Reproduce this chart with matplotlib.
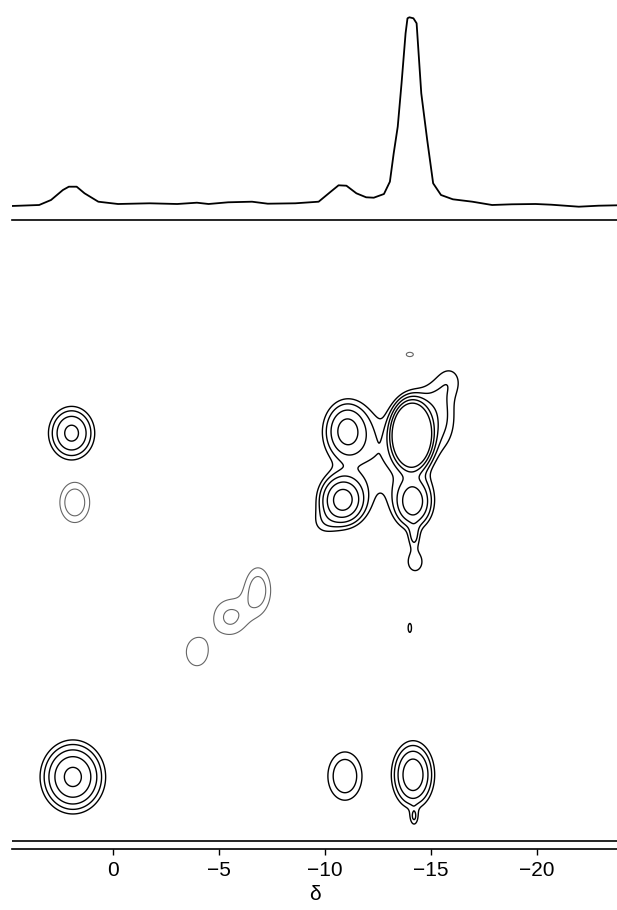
import matplotlib
matplotlib.use('Agg')
import matplotlib.pyplot as plt
import numpy as np

plt.rcParams['font.family'] = ['Liberation Sans', 'DejaVu Sans']

# 1D projection trace (delta, intensity)
trace_delta = [4.78, 3.48, 2.92, 2.36, 2.08, 1.71, 1.34, 0.69, -0.24, -1.73, -3.03,
               -3.96, -4.51, -5.43, -6.56, -7.3, -8.6, -9.7, -10.27, -10.64, -11.01,
               -11.48, -11.94, -12.3, -12.78, -13.06, -13.24, -13.43, -13.61, -13.8,
               -13.89, -13.98, -14.17, -14.32, -14.54, -14.82, -15.1, -15.47, -16.03,
               -16.95, -17.88, -18.81, -19.93, -20.67, -21.97, -22.9, -23.79]
trace_int = [0, 1, 6, 16, 19.3, 19.3, 12.7, 4.3, 2, 2.7, 2,
             3.3, 2, 3.7, 4.3, 2.3, 2.7, 4.3, 14.3, 20.7, 20.3,
             12.7, 8.7, 8.3, 12, 24.3, 52.7, 79.3, 122.7, 172.7,
             187.7, 188.7, 187.7, 182.7, 112.7, 66, 22.7, 11, 6.7,
             4.3, 1, 1.7, 2, 1.3, -0.7, 0.3, 0.7]

# 2D exchange spectrum peaks: F2 shift, F1 shift, height, F2 width, F1 width
main_d2 = [1.89, -10.94, -14.15, -14.2, 1.95, -11.03, -14.09, -10.83, -14.15,
           -14.2, -14.25, -14.0,
           -12.8, -15.4, -15.0, -15.9, -9.9]
main_d1 = [1.90, 1.86, 1.80, 3.8, -14.13, -14.24, -14.05, -11.01, -10.92,
           -9.3, -8.13, -5.05,
           -13.0, -14.6, -15.6, -16.6, -9.9]
main_amp = [7.5, 2.45, 6.0, 1.4, 4.7, 4.7, 61, 8.2, 5.5,
            1.5, 1.5, 1.15,
            1.5, 1.4, 1.0, 1.1, 0.9]
main_w2 = [0.77, 0.6, 0.54, 0.15, 0.62, 0.62, 0.42, 0.59, 0.52,
           0.2, 0.35, 0.15,
           1.5, 0.6, 0.7, 0.5, 0.5]
main_w1 = [0.86, 0.84, 0.84, 0.3, 0.71, 0.8, 0.68, 0.65, 0.7,
           0.4, 0.45, 0.4,
           1.6, 1.0, 0.8, 0.6, 0.5]

# weak (artefact) peaks drawn fainter
weak_d2 = [1.8, -6.84, -5.52, -3.96, -14.0]
weak_d1 = [-10.9, -6.82, -5.55, -3.92, -17.8]
weak_amp = [2.33, 2.08, 1.75, 1.5, 1.25]
weak_w2 = [0.54, 0.49, 0.7, 0.55, 0.25]
weak_w1 = [0.72, 0.85, 0.75, 0.7, 0.15]

levels = [1, 1.6, 2.56, 4.1, 6.55]
ticks = [0, -5, -10, -15, -20]

xlim = (4.76, -23.77)
ylim = (5.26, -24.07)

x = np.linspace(xlim[0], xlim[1], 700)
y = np.linspace(ylim[1], ylim[0], 700)
X, Y = np.meshgrid(x, y)


def field(d2, d1, amp, w2, w1):
    Z = np.zeros_like(X)
    for a, b, h, s2, s1 in zip(d2, d1, amp, w2, w1):
        Z += h * np.exp(-0.5 * ((X - a) / s2) ** 2 - 0.5 * ((Y - b) / s1) ** 2)
    return Z


fig = plt.figure(figsize=(6.17, 9.10), dpi=100)

# top 1D spectrum
ax1 = fig.add_axes([12 / 617, 1 - 220 / 910, 605 / 617, 220 / 910])
ax1.plot(trace_delta, trace_int, color='black', lw=1.3)
ax1.set_xlim(*xlim)
ax1.set_ylim(-14, 206)
ax1.axis('off')

# 2D contour plot
ax2 = fig.add_axes([12 / 617, 1 - 849 / 910, 605 / 617, (849 - 220) / 910])
ax2.contour(X, Y, field(main_d2, main_d1, main_amp, main_w2, main_w1),
            levels=levels, colors='black', linewidths=1.0)
ax2.contour(X, Y, field(weak_d2, weak_d1, weak_amp, weak_w2, weak_w1),
            levels=levels, colors='#666666', linewidths=0.8)
ax2.axhline(4.89, color='black', lw=1.2)
ax2.set_xlim(*xlim)
ax2.set_ylim(*ylim)
for side in ['left', 'right']:
    ax2.spines[side].set_visible(False)
ax2.spines['top'].set_linewidth(1.2)
ax2.spines['bottom'].set_linewidth(1.2)
ax2.set_yticks([])
ax2.set_xticks(ticks)
ax2.set_xticklabels([f'\u2212{-t}' if t < 0 else str(t) for t in ticks])
ax2.tick_params(axis='x', direction='out', length=4.5, width=1.0, labelsize=15, pad=4)
ax2.set_xlabel('\u03b4', fontsize=15, labelpad=4)

fig.savefig('out.png', dpi=100)
